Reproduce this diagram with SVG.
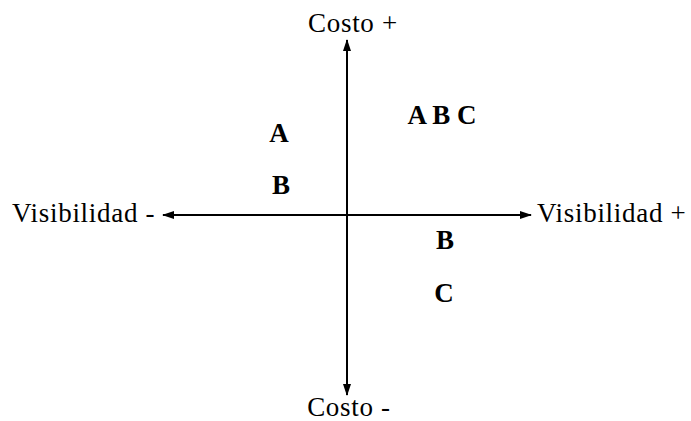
<svg xmlns="http://www.w3.org/2000/svg" width="691" height="421" viewBox="0 0 691 421">
<style>
.lbl{font-family:"Liberation Serif","Times New Roman",serif;font-size:27px;letter-spacing:0.7px;fill:#000}
.b{font-family:"Liberation Serif","Times New Roman",serif;font-size:27px;font-weight:bold;fill:#000;text-anchor:middle}
.ax{stroke:#000;stroke-width:2;fill:none}
</style>
<defs>
<marker id="ah" viewBox="0 0 12 10" refX="11" refY="5" markerWidth="12" markerHeight="10" markerUnits="userSpaceOnUse" orient="auto">
<path d="M0,1 L12,5 L0,9 Z" fill="#000"/>
</marker>
</defs>
<g id="connectors">
<line class="ax" x1="347" y1="215" x2="347" y2="40" marker-end="url(#ah)"/>
<line class="ax" x1="347" y1="215" x2="347" y2="395" marker-end="url(#ah)"/>
<line class="ax" x1="347" y1="215" x2="163" y2="215" marker-end="url(#ah)"/>
<line class="ax" x1="347" y1="215" x2="531" y2="215" marker-end="url(#ah)"/>
</g>
<g id="costo-plus"><text class="lbl" x="353" y="32" text-anchor="middle">Costo +</text></g>
<g id="costo-minus"><text class="lbl" x="349" y="416" text-anchor="middle">Costo -</text></g>
<g id="vis-minus"><text class="lbl" x="12" y="222">Visibilidad -</text></g>
<g id="vis-plus"><text class="lbl" x="537" y="222">Visibilidad +</text></g>
<g id="q2-A"><text class="b" x="279" y="142">A</text></g>
<g id="q2-B"><text class="b" x="281" y="194">B</text></g>
<g id="q1-ABC"><text class="b" x="442" y="124">A B C</text></g>
<g id="q4-B"><text class="b" x="445" y="249">B</text></g>
<g id="q4-C"><text class="b" x="444" y="302">C</text></g>
</svg>
